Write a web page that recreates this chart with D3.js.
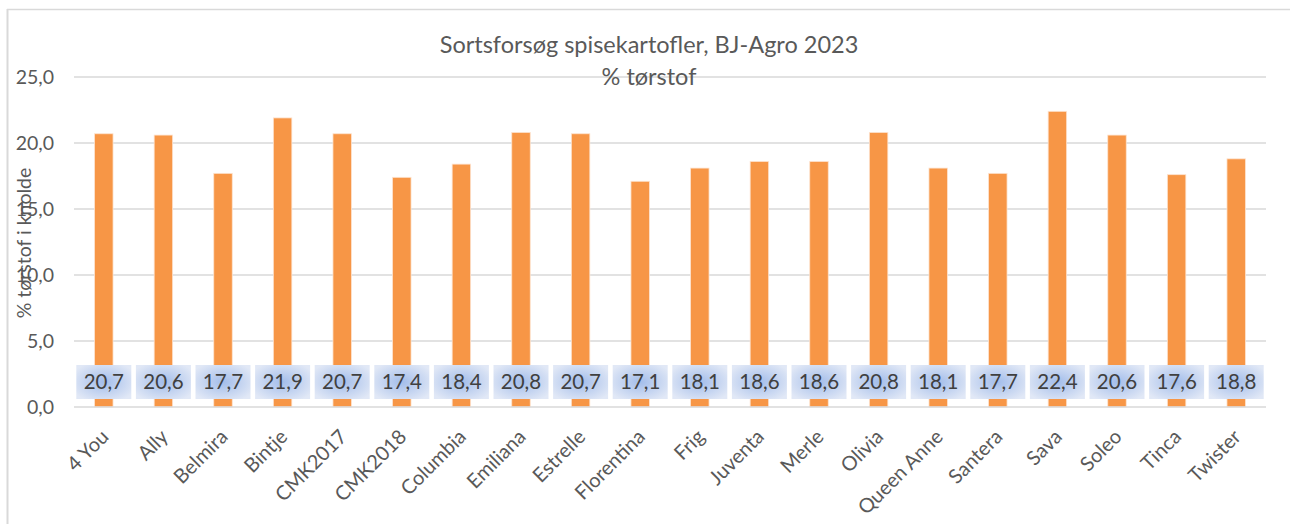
<!DOCTYPE html>
<html><head><meta charset="utf-8">
<script src="https://cdn.jsdelivr.net/npm/d3@7"></script>
<style>body{margin:0;background:#fff;} svg{display:block;font-family:Lato,"Open Sans",sans-serif;}</style>
</head><body>
<svg id="c" width="1290" height="524"></svg>
<script>
const categories = ["4 You","Ally","Belmira","Bintje","CMK2017","CMK2018","Columbia","Emiliana","Estrelle","Florentina","Frig","Juventa","Merle","Olivia","Queen Anne","Santera","Sava","Soleo","Tinca","Twister"];
const values = [20.7,20.6,17.7,21.9,20.7,17.4,18.4,20.8,20.7,17.1,18.1,18.6,18.6,20.8,18.1,17.7,22.4,20.6,17.6,18.8];
const yTicks = [0,5,10,15,20,25];
const titleLines = ["Sortsforsøg spisekartofler, BJ-Agro 2023","% tørstof"];
const yTitle = "% tørstof i knolde";

const svg = d3.select("#c");
const fmt = v => d3.format(".1f")(v).replace(".", ",");

// chart border
svg.append("line").attr("x1",7).attr("x2",1290).attr("y1",9.5).attr("y2",9.5).attr("stroke","#d9d9d9").attr("stroke-width",1.5);
svg.append("line").attr("x1",7.5).attr("x2",7.5).attr("y1",9).attr("y2",524).attr("stroke","#d9d9d9").attr("stroke-width",2);

const x = d3.scaleBand().domain(categories).range([74,1266]).paddingInner(0.69).paddingOuter(0.345);
const y = d3.scaleLinear().domain([0,25]).range([407,77]);

// gridlines
svg.append("g").selectAll("line").data(yTicks.filter(d=>d>0)).join("line")
  .attr("x1",74).attr("x2",1266).attr("y1",d=>y(d)).attr("y2",d=>y(d))
  .attr("stroke","#d9d9d9").attr("stroke-width",1.5);

// y axis labels
const yAxis = d3.axisLeft(y).tickValues(yTicks).tickFormat(fmt).tickSize(0).tickPadding(0);
const ya = svg.append("g").attr("transform","translate(54,0)").call(yAxis);
ya.select(".domain").remove();
ya.selectAll("text").attr("fill","#595959").attr("font-size",19.5).attr("font-family","Lato");

// bars
svg.append("g").selectAll("rect").data(values).join("rect")
  .attr("x",(d,i)=>x(categories[i])).attr("width",x.bandwidth())
  .attr("y",d=>y(d)).attr("height",d=>y(0)-y(d))
  .attr("fill","#f79646").attr("stroke","#fde3cf").attr("stroke-width",0.8);

// axis line
svg.append("line").attr("x1",74).attr("x2",1266).attr("y1",407).attr("y2",407).attr("stroke","#d9d9d9").attr("stroke-width",1.5);

// gradient
const defs = svg.append("defs");
const g = defs.append("radialGradient").attr("id","lg").attr("cx","50%").attr("cy","50%").attr("r","62%");
g.append("stop").attr("offset","0%").attr("stop-color","#a3bdea");
g.append("stop").attr("offset","100%").attr("stop-color","#e1e8f6");

// data labels
const lab = svg.append("g").selectAll("g").data(values).join("g")
  .attr("transform",(d,i)=>`translate(${x(categories[i])+x.bandwidth()/2},382)`);
lab.append("rect").attr("x",-27.5).attr("y",-17).attr("width",55).attr("height",34).attr("fill","url(#lg)");
lab.append("text").attr("text-anchor","middle").attr("dy","0.36em").attr("font-size",20.5)
  .attr("fill","#404040").text(d=>fmt(d));

// x labels
const xAxis = d3.axisBottom(x).tickSize(0).tickPadding(0);
const xa = svg.append("g").attr("transform","translate(0,407)").call(xAxis);
xa.select(".domain").remove();
xa.selectAll("text").attr("font-size",20).attr("fill","#595959").attr("font-family","Lato")
  .attr("text-anchor","end").attr("dy",0).attr("y",0)
  .attr("transform","translate(6,31) rotate(-45)");

// title
svg.append("text").attr("x",649).attr("y",53).attr("text-anchor","middle").attr("font-size",23.5).attr("fill","#595959").text(titleLines[0]);
svg.append("text").attr("x",649).attr("y",85).attr("text-anchor","middle").attr("font-size",23.5).attr("fill","#595959").text(titleLines[1]);

// y title
svg.append("text").attr("transform","translate(31,243) rotate(-90)").attr("text-anchor","middle").attr("font-size",19.5).attr("fill","#595959").text(yTitle);
</script>
</body></html>
